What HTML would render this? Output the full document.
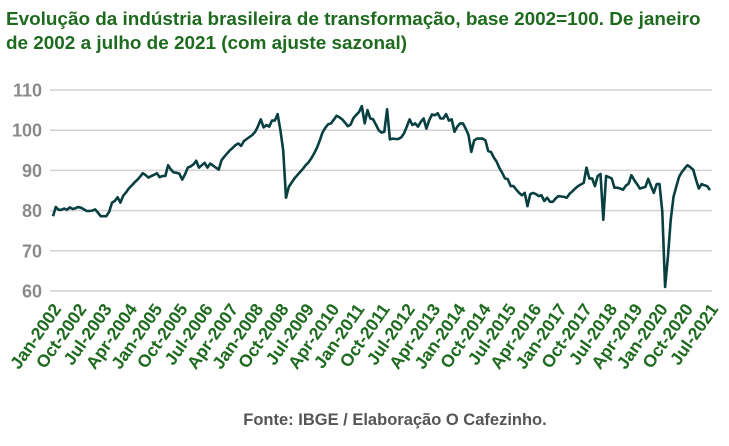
<!DOCTYPE html>
<html><head><meta charset="utf-8"><style>
body{margin:0;background:#fff;}
svg text{font-family:"Liberation Sans",sans-serif;}
</style></head><body>
<svg id="chart" width="729" height="441" viewBox="0 0 729 441" xmlns="http://www.w3.org/2000/svg">
<text x="6" y="25" font-size="18.9" font-weight="bold" fill="#1e6a1e">Evolução da indústria brasileira de transformação, base 2002=100. De janeiro</text>
<text x="6" y="49" font-size="18.9" font-weight="bold" fill="#1e6a1e">de 2002 a julho de 2021 (com ajuste sazonal)</text>
<g id="grid"></g><g id="yt"></g><g id="xt"></g>
<path id="line" fill="none" stroke="#083f40" stroke-width="2.6" stroke-linejoin="round"/>
<text x="395" y="425" font-size="16.5" font-weight="bold" fill="#555" text-anchor="middle">Fonte: IBGE / Elaboração O Cafezinho.</text>
</svg>
<script>
const yTicks=[60,70,80,90,100,110];
const xLabels=["Jan-2002","Oct-2002","Jul-2003","Apr-2004","Jan-2005","Oct-2005","Jul-2006","Apr-2007","Jan-2008","Oct-2008","Jul-2009","Apr-2010","Jan-2011","Oct-2011","Jul-2012","Apr-2013","Jan-2014","Oct-2014","Jul-2015","Apr-2016","Jan-2017","Oct-2017","Jul-2018","Apr-2019","Jan-2020","Oct-2020","Jul-2021"];
const values=[
78.6,80.9,80.2,80.2,80.5,80.2,80.8,80.4,80.6,80.9,80.7,80.3,
79.9,79.9,80.0,80.3,79.5,78.6,78.6,78.6,79.7,82.0,82.4,83.3,
82.0,83.7,84.5,85.5,86.2,87.0,87.6,88.4,89.3,88.8,88.2,88.6,
88.9,89.3,88.3,88.6,88.6,91.3,90.2,89.5,89.4,89.2,87.7,89.0,
90.7,91.0,91.5,92.4,90.7,91.3,91.9,90.7,91.7,91.2,90.7,90.2,
92.5,93.4,94.2,95.0,95.6,96.3,96.7,96.1,97.3,97.8,98.3,98.8,
99.6,101.0,102.7,100.7,101.3,100.9,102.4,102.4,104.0,100.0,95.0,83.2,
85.9,87.0,88.0,88.8,89.6,90.4,91.3,92.0,93.0,94.2,95.6,97.4,
99.4,100.6,101.5,101.7,102.6,103.6,103.2,102.7,101.9,101.0,101.4,103.0,
103.8,104.5,106.0,101.7,105.0,102.9,102.7,101.4,100.0,99.4,99.6,105.2,
97.7,97.9,97.8,97.8,98.2,99.2,100.9,102.7,101.3,101.7,100.9,102.1,
102.9,100.4,102.5,103.9,103.7,104.2,102.9,102.9,104.0,102.4,102.7,99.6,
100.9,101.7,101.7,100.4,98.8,94.6,97.5,97.9,97.9,97.9,97.5,94.8,
94.6,93.2,92.2,90.6,89.4,88.0,87.8,86.1,86.1,85.2,84.4,83.8,
84.4,81.1,84.1,84.4,84.1,83.6,83.8,82.4,83.2,82.2,82.2,83.0,
83.6,83.5,83.4,83.2,84.2,84.8,85.5,86.1,86.5,86.9,90.7,88.0,
88.0,86.1,88.6,89.1,77.7,88.6,88.3,88.0,85.7,85.7,85.5,85.2,
86.2,86.7,88.8,87.6,86.6,85.5,85.7,85.9,87.9,86.1,84.4,86.6,
86.6,79.7,61.0,68.4,77.6,83.4,86.0,88.4,89.6,90.5,91.3,90.8,
90.2,87.7,85.5,86.6,86.3,86.1,85.1];
const NS="http://www.w3.org/2000/svg";
const x0=53,x1=710,yMin=60,yMax=110,yTop=90,yBot=291;
const xs=i=>x0+(x1-x0)*i/(values.length-1);
const ys=v=>yBot-(v-yMin)/(yMax-yMin)*(yBot-yTop);
const grid=document.getElementById('grid'),yt=document.getElementById('yt'),xt=document.getElementById('xt');
yTicks.forEach(t=>{
  const l=document.createElementNS(NS,'line');
  
  
  l.setAttribute('x1',50);l.setAttribute('x2',712);l.setAttribute('y1',ys(t));l.setAttribute('y2',ys(t));
  l.setAttribute('stroke','#d2d2d2');l.setAttribute('stroke-width','1.5');grid.appendChild(l);
  const tx=document.createElementNS(NS,'text');
  
  
  tx.setAttribute('x',42);tx.setAttribute('y',ys(t)+6.5);tx.setAttribute('text-anchor','end');
  tx.setAttribute('font-size','18');tx.setAttribute('font-weight','bold');tx.setAttribute('fill','#8a8a8a');
  tx.textContent=t;yt.appendChild(tx);
});
xLabels.forEach((s,k)=>{
  const x=xs(k*9)+9,y=309;
  const tx=document.createElementNS(NS,'text');
  
  
  tx.setAttribute('x',x);tx.setAttribute('y',y);tx.setAttribute('text-anchor','end');
  tx.setAttribute('font-size','17.5');tx.setAttribute('font-weight','bold');tx.setAttribute('fill','#1e6a1e');
  tx.setAttribute('transform','rotate(-55 '+x+' '+y+')');
  tx.textContent=s;xt.appendChild(tx);
});
document.getElementById('line').setAttribute('d',values.map((v,i)=>(i?'L':'M')+xs(i).toFixed(1)+' '+ys(v).toFixed(1)).join(''));
</script>
</body></html>
